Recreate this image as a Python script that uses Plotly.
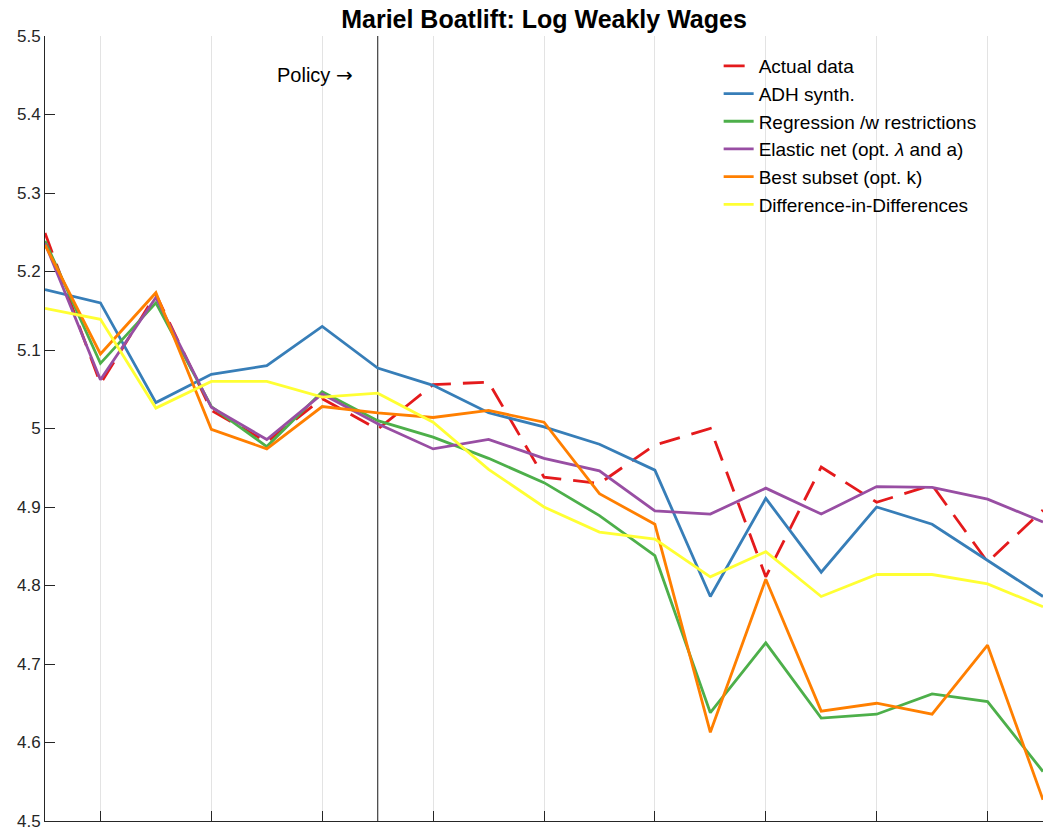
import plotly.graph_objects as go

years = list(range(1974, 1993))
policy_year = 1980

actual = [5.249, 5.057, 5.171, 5.023, 4.983, 5.038, 4.999, 5.056, 5.059, 4.938,
          4.930, 4.979, 5.000, 4.811, 4.951, 4.906, 4.928, 4.830, 4.896]
adh = [5.177, 5.160, 5.033, 5.069, 5.080, 5.130, 5.077, 5.055, 5.020, 5.002,
       4.980, 4.947, 4.786, 4.911, 4.817, 4.900, 4.878, 4.832, 4.786]
regression = [5.239, 5.083, 5.160, 5.028, 4.977, 5.047, 5.010, 4.989, 4.962, 4.931,
              4.889, 4.838, 4.638, 4.727, 4.631, 4.636, 4.662, 4.652, 4.563]
elastic = [5.236, 5.062, 5.167, 5.027, 4.986, 5.044, 5.006, 4.974, 4.986, 4.962,
           4.946, 4.895, 4.891, 4.924, 4.891, 4.926, 4.925, 4.910, 4.881]
best_subset = [5.234, 5.095, 5.173, 4.999, 4.974, 5.028, 5.020, 5.014, 5.023, 5.008,
               4.917, 4.878, 4.613, 4.808, 4.640, 4.650, 4.636, 4.724, 4.527]
did = [5.153, 5.139, 5.026, 5.060, 5.060, 5.040, 5.045, 5.008, 4.948, 4.900,
       4.868, 4.859, 4.811, 4.843, 4.786, 4.814, 4.814, 4.802, 4.773]

series = [
    ("Actual data", actual, "#e41a1c", "21px,12px"),
    ("ADH synth.", adh, "#377eb8", "solid"),
    ("Regression /w restrictions", regression, "#4daf4a", "solid"),
    ("Elastic net (opt. <i>λ</i> and a)", elastic, "#984ea3", "solid"),
    ("Best subset (opt. k)", best_subset, "#ff7f00", "solid"),
    ("Difference-in-Differences", did, "#ffff33", "solid"),
]

y_ticks = [4.5, 4.6, 4.7, 4.8, 4.9, 5.0, 5.1, 5.2, 5.3, 5.4, 5.5]
y_tick_text = ["4.5", "4.6", "4.7", "4.8", "4.9", "5", "5.1", "5.2", "5.3", "5.4", "5.5"]
x_ticks = list(range(1975, 1993, 2))

fig = go.Figure()
for name, vals, color, dash in series:
    fig.add_trace(go.Scatter(x=years, y=vals, mode="lines", name=name,
                             line=dict(color=color, width=2.8, dash=dash)))

fig.add_shape(type="line", xref="x", yref="paper", x0=policy_year, x1=policy_year,
              y0=0, y1=1, line=dict(color="#4d4d4d", width=1.3), layer="below")

fig.add_annotation(x=1979.6, y=5.45, xref="x", yref="y",
                   text="Policy <span style=\"font-family:'DejaVu Sans'\">→</span>",
                   showarrow=False, xanchor="right", yanchor="middle",
                   font=dict(family="Liberation Sans, Arial, sans-serif", size=20, color="#000000"))

W, H = 1045, 833
fig.update_layout(
    width=W, height=H,
    margin=dict(l=45, r=2, t=36, b=10),
    paper_bgcolor="white", plot_bgcolor="white",
    font=dict(family="Liberation Sans, Arial, sans-serif", color="#262626"),
    title=dict(text="<b>Mariel Boatlift: Log Weakly Wages</b>", x=0.5, xref="paper",
               xanchor="center", y=1 - 19 / H, yanchor="middle",
               font=dict(size=25, color="#000000")),
    showlegend=True,
    legend=dict(x=0.675, y=0.986, xanchor="left", yanchor="top",
                bgcolor="rgba(255,255,255,0)", borderwidth=0,
                font=dict(size=19, color="#000000")),
    xaxis=dict(range=[years[0], years[-1]], tickmode="array", tickvals=x_ticks,
               showticklabels=False, ticks="inside", ticklen=10, tickcolor="#262626",
               showgrid=True, gridcolor="#e3e3e3", gridwidth=1, zeroline=False,
               showline=True, linecolor="#262626", linewidth=1),
    yaxis=dict(range=[4.5, 5.5], tickmode="array", tickvals=y_ticks, ticktext=y_tick_text,
               ticks="inside", ticklen=10, tickcolor="#262626", showgrid=False,
               zeroline=False, showline=True, linecolor="#262626", linewidth=1,
               tickfont=dict(size=17, color="#262626")),
)

fig.write_html("out.html",
               config={"displayModeBar": False},
               post_script="document.body.style.margin='0';document.body.style.overflow='hidden';")
